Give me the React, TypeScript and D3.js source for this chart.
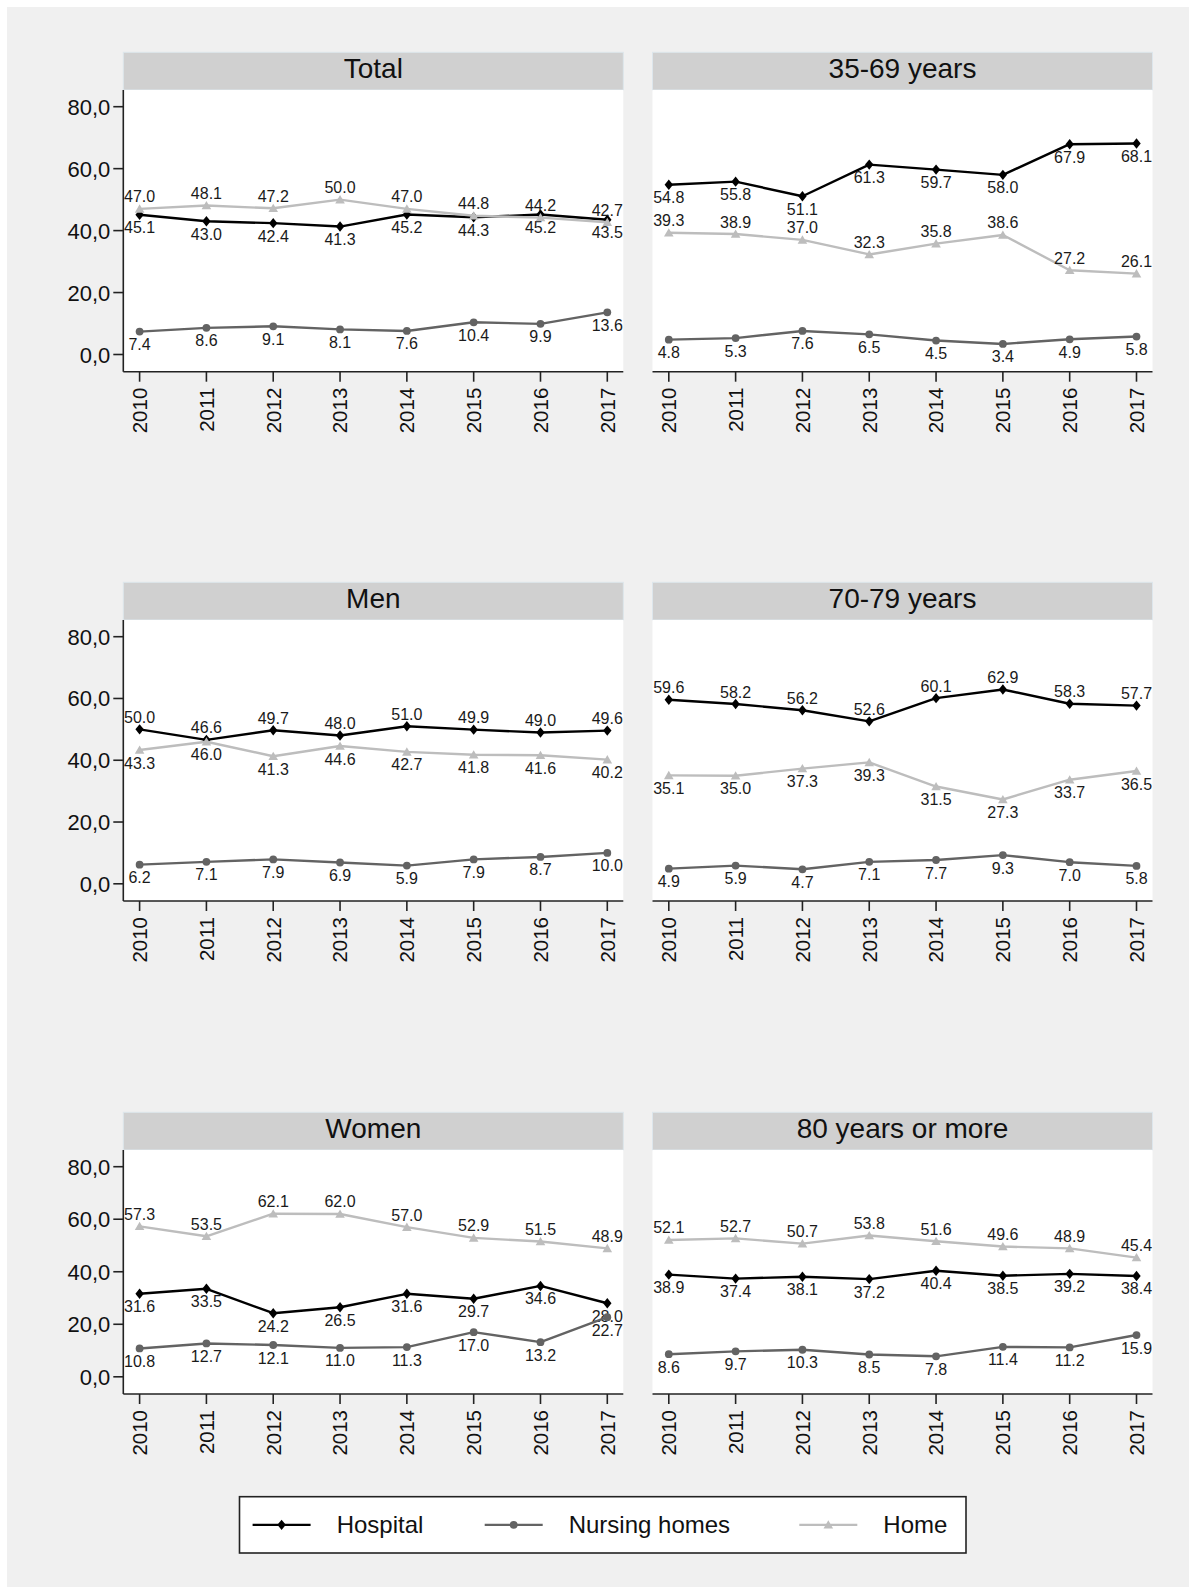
import * as d3 from 'd3'

const years = [2010, 2011, 2012, 2013, 2014, 2015, 2016, 2017]
const panelTitles = ['Total', '35-69 years', 'Men', '70-79 years', 'Women', '80 years or more']
const yTicks = [0, 20, 40, 60, 80]

// one row per panel, same order as panelTitles
const hospital = [
	[45.1, 43.0, 42.4, 41.3, 45.2, 44.3, 45.2, 43.5],
	[54.8, 55.8, 51.1, 61.3, 59.7, 58.0, 67.9, 68.1],
	[50.0, 46.6, 49.7, 48.0, 51.0, 49.9, 49.0, 49.6],
	[59.6, 58.2, 56.2, 52.6, 60.1, 62.9, 58.3, 57.7],
	[31.6, 33.5, 24.2, 26.5, 31.6, 29.7, 34.6, 28.0],
	[38.9, 37.4, 38.1, 37.2, 40.4, 38.5, 39.2, 38.4],
]
const nursing = [
	[7.4, 8.6, 9.1, 8.1, 7.6, 10.4, 9.9, 13.6],
	[4.8, 5.3, 7.6, 6.5, 4.5, 3.4, 4.9, 5.8],
	[6.2, 7.1, 7.9, 6.9, 5.9, 7.9, 8.7, 10.0],
	[4.9, 5.9, 4.7, 7.1, 7.7, 9.3, 7.0, 5.8],
	[10.8, 12.7, 12.1, 11.0, 11.3, 17.0, 13.2, 22.7],
	[8.6, 9.7, 10.3, 8.5, 7.8, 11.4, 11.2, 15.9],
]
const home = [
	[47.0, 48.1, 47.2, 50.0, 47.0, 44.8, 44.2, 42.7],
	[39.3, 38.9, 37.0, 32.3, 35.8, 38.6, 27.2, 26.1],
	[43.3, 46.0, 41.3, 44.6, 42.7, 41.8, 41.6, 40.2],
	[35.1, 35.0, 37.3, 39.3, 31.5, 27.3, 33.7, 36.5],
	[57.3, 53.5, 62.1, 62.0, 57.0, 52.9, 51.5, 48.9],
	[52.1, 52.7, 50.7, 53.8, 51.6, 49.6, 48.9, 45.4],
]

// marker label placement per panel: hospital / nursing / home
const labelAbove = [
	[false, false, true],
	[false, false, true],
	[true, false, false],
	[true, false, false],
	[false, false, true],
	[false, false, true],
]

const FONT = "'Liberation Sans', Arial, Helvetica, sans-serif"
const W = 1189
const H = 1587
const colX = [123.3, 652.5]
const plotW = 500
const rowTop = [52.3, 582.3, 1112.3]
const titleH = 37.7
const plotH = [281.7, 281, 244]

const series = [
	{ name: 'Hospital', values: hospital, color: '#000000', marker: 'diamond' },
	{ name: 'Nursing homes', values: nursing, color: '#636363', marker: 'circle' },
	{ name: 'Home', values: home, color: '#bdbdbd', marker: 'triangle' },
]

const triangle = d3.symbol(d3.symbolTriangle, 40)()

function Marker({ type, x, y, color }: { type: string; x: number; y: number; color: string }) {
	if (type === 'circle') return <circle cx={x} cy={y} r={3.9} fill={color} />
	if (type === 'diamond')
		return <path d={`M${x},${y - 5.2}L${x + 4.2},${y}L${x},${y + 5.2}L${x - 4.2},${y}Z`} fill={color} />
	return <path d={triangle!} transform={`translate(${x},${y + 1})`} fill={color} />
}

function Panel({ idx }: { idx: number }) {
	const col = idx % 2
	const row = Math.floor(idx / 2)
	const left = colX[col]
	const top = rowTop[row]
	const pTop = top + titleH
	const pBottom = pTop + plotH[row]

	const x = d3
		.scalePoint<number>()
		.domain(years)
		.range([left + 16.3, left + 484])
	const y = d3
		.scaleLinear()
		.domain([0, 80])
		.range([pBottom - 17.2, pTop + 16.7])

	const line = d3
		.line<number>()
		.x((_, i) => x(years[i])!)
		.y((d) => y(d))

	return (
		<g>
			<rect x={left} y={top} width={plotW} height={titleH} fill="#d0d0d0" stroke="#dde6ec" strokeWidth={1} />
			<text x={left + plotW / 2} y={top + 25.5} textAnchor="middle" fontSize={28} fill="#111">
				{panelTitles[idx]}
			</text>
			<rect x={left} y={pTop} width={plotW} height={plotH[row]} fill="#ffffff" />

			{col === 0 && (
				<g>
					<line x1={left} x2={left} y1={pTop} y2={pBottom} stroke="#222" strokeWidth={1.6} />
					{yTicks.map((t) => (
						<g key={t}>
							<line x1={left - 10} x2={left} y1={y(t)} y2={y(t)} stroke="#222" strokeWidth={1.6} />
							<text x={left - 13} y={y(t) + 8} textAnchor="end" fontSize={22} fill="#111">
								{t.toFixed(1).replace('.', ',')}
							</text>
						</g>
					))}
				</g>
			)}

			<line x1={left} x2={left + plotW} y1={pBottom} y2={pBottom} stroke="#222" strokeWidth={1.6} />
			{years.map((yr) => (
				<g key={yr}>
					<line x1={x(yr)} x2={x(yr)} y1={pBottom} y2={pBottom + 10} stroke="#222" strokeWidth={1.6} />
					<text
						transform={`translate(${x(yr)},${pBottom + 16}) rotate(-90)`}
						textAnchor="end"
						dy="0.36em"
						fontSize={20.5}
						fill="#111"
					>
						{yr}
					</text>
				</g>
			))}

			{series.map((s, si) => {
				const vals = s.values[idx]
				const above = labelAbove[idx][si]
				return (
					<g key={s.name}>
						<path d={line(vals)!} fill="none" stroke={s.color} strokeWidth={2.4} strokeLinejoin="round" />
						{vals.map((v, i) => (
							<Marker key={i} type={s.marker} x={x(years[i])!} y={y(v)} color={s.color} />
						))}
						{vals.map((v, i) => (
							<text
								key={'l' + i}
								x={x(years[i])}
								y={above ? y(v) - 6.5 : y(v) + 18.5}
								textAnchor="middle"
								fontSize={16}
								fill="#1a1a1a"
							>
								{v.toFixed(1)}
							</text>
						))}
					</g>
				)
			})}
		</g>
	)
}

function Legend() {
	const top = 1496.7
	const bottom = 1553
	const cy = (top + bottom) / 2
	const items = [
		{ s: series[0], x0: 252.6, tx: 336.7 },
		{ s: series[1], x0: 484.7, tx: 568.7 },
		{ s: series[2], x0: 799.3, tx: 883.3 },
	]
	return (
		<g>
			<rect x={239.5} y={top} width={726.5} height={bottom - top} fill="#fff" stroke="#222" strokeWidth={1.6} />
			{items.map(({ s, x0, tx }) => (
				<g key={s.name}>
					<line x1={x0} x2={x0 + 58} y1={cy} y2={cy} stroke={s.color} strokeWidth={2.4} />
					<Marker type={s.marker} x={x0 + 29} y={cy} color={s.color} />
					<text x={tx} y={cy + 8.5} fontSize={24} fill="#111">
						{s.name}
					</text>
				</g>
			))}
		</g>
	)
}

export default function App() {
	return (
		<svg
			width={W}
			height={H}
			style={{ position: 'absolute', left: 0, top: 0, fontFamily: FONT }}
		>
			<rect x={0} y={0} width={W} height={H} fill="#ffffff" />
			<rect x={7} y={7} width={W - 7} height={H - 7} fill="#f0f0f0" />
			{panelTitles.map((_, i) => (
				<Panel key={i} idx={i} />
			))}
			<Legend />
		</svg>
	)
}
